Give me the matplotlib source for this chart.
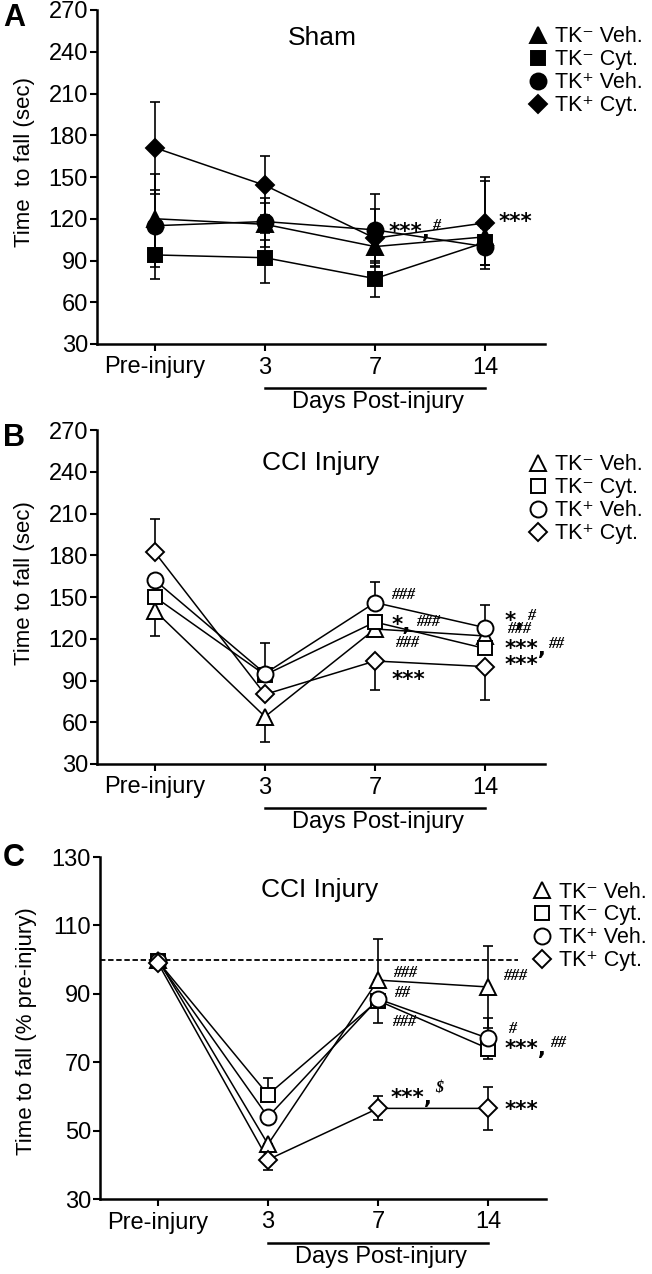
import matplotlib
matplotlib.use('Agg')
import matplotlib.pyplot as plt
from matplotlib.transforms import blended_transform_factory, offset_copy

plt.rcParams['font.family'] = ['Liberation Sans', 'DejaVu Sans']

days = ['Pre-injury', '3', '7', '14']
groups = ['TK\u207b Veh.', 'TK\u207b Cyt.', 'TK\u207a Veh.', 'TK\u207a Cyt.']
markers = ['^', 's', 'o', 'D']
msizes = [12, 10, 11.5, 9]

# A: Sham, time to fall (sec)  -- order: TK- Veh, TK- Cyt, TK+ Veh, TK+ Cyt
a_mean = [[120, 116, 100, 107], [94, 92, 77, 103], [115, 118, 112, 100], [171, 144, 106, 117]]
a_hi = [[32, 15, 12, 40], [17, 18, 13, 10], [26, 17, 26, 14], [33, 21, 21, 33]]
a_lo = [[35, 16, 12, 20], [17, 18, 13, 16], [26, 13, 26, 13], [33, 21, 21, 33]]

# B: CCI injury, time to fall (sec)
b_mean = [[140, 64, 127, 122], [150, 94, 132, 113], [162, 95, 146, 128], [182, 80, 104, 100]]
b_hi = [[0, 0, 0, 0], [0, 0, 0, 0], [0, 22, 15, 16], [24, 0, 0, 0]]
b_lo = [[18, 18, 0, 0], [0, 0, 0, 0], [0, 0, 0, 0], [0, 0, 21, 24]]

# C: CCI injury, % of pre-injury
c_mean = [[100, 46, 94, 92], [99.5, 60.5, 88, 74], [99.5, 54, 88.5, 77], [99, 41.5, 56.5, 56.5]]
c_hi = [[0, 0, 12, 12], [0, 5, 0, 0], [0, 0, 0, 6], [0, 0, 3.5, 6.3]]
c_lo = [[0, 0, 0, 12], [0, 0, 6.5, 3], [0, 0, 0, 0], [0, 3, 3.5, 6.3]]
baseline = 100

# significance labels: (x, y, text, kind)
a_notes = [(2.12, 114, '***,', 'star'), (2.52, 114.8, '#', 'hash'), (3.12, 121, '***', 'star')]
b_notes = [(2.15, 151.4, '###', 'hash'), (2.15, 133.5, '*,', 'star'), (2.37, 132.3, '###', 'hash'),
           (2.18, 116.7, '###', 'hash'), (2.15, 94, '***', 'star'),
           (3.18, 136.5, '*,', 'star'), (3.38, 136.5, '#', 'hash'), (3.2, 127, '###', 'hash'),
           (3.18, 116, '***,', 'star'), (3.57, 116.5, '##', 'hash'), (3.18, 104.7, '***', 'star')]
c_notes = [(2.14, 96.2, '###', 'hash'), (2.15, 90.1, '##', 'hash'), (2.13, 81.8, '###', 'hash'),
           (2.11, 61.1, '***,', 'star'), (2.52, 62.5, '$', 'hash'),
           (3.14, 95.2, '###', 'hash'), (3.18, 79.6, '#', 'hash'),
           (3.15, 75.3, '***,', 'star'), (3.56, 75.6, '##', 'hash'), (3.15, 57.5, '***', 'star')]

fig = plt.figure(figsize=(6.52, 12.74), dpi=100)
W, H = 652, 1274


def panel(rect, means, lo, hi, filled, notes, ylim, yticks, ylabel, ylab_xy, title, title_xy,
          letter, letter_xy, xlim):
    l, t, w, h = rect
    ax = fig.add_axes([l / W, 1 - (t + h) / H, w / W, h / H])
    x = list(range(len(days)))
    for m, e1, e2 in zip(means, lo, hi):
        ax.errorbar(x, m, yerr=[e1, e2], fmt='none', ecolor='black', elinewidth=1.2,
                    capsize=3.5, capthick=1.2, zorder=1)
    for m in means:
        ax.plot(x, m, color='black', lw=1.1, zorder=2)
    handles = []
    for m, mk, ms in zip(means, markers, msizes):
        ln, = ax.plot(x, m, ls='none', marker=mk, ms=ms, mfc='black' if filled else 'white',
                      mec='black', mew=1.4, zorder=3)
        handles.append(ln)
    star_tr = offset_copy(ax.transData, fig=fig, y=-5, units='dots')
    for nx, ny, s, kind in notes:
        if kind == 'star':
            ax.text(nx, ny, s, fontsize=15.5, family='DejaVu Sans', fontweight='bold',
                    va='center', ha='left', clip_on=False, transform=star_tr)
        else:
            ax.text(nx, ny, s, fontsize=11.5, family='Liberation Serif', style='italic',
                    fontweight='bold', va='center', ha='left', clip_on=False)
    ax.set_xlim(*xlim)
    ax.set_ylim(*ylim)
    ax.set_yticks(yticks)
    ax.set_xticks(x)
    ax.set_xticklabels(days)
    for sp in ['top', 'right']:
        ax.spines[sp].set_visible(False)
    for sp in ['left', 'bottom']:
        ax.spines[sp].set_linewidth(1.8)
    ax.tick_params(direction='out', length=5, width=1.5, labelsize=17)
    ax.tick_params(axis='y', pad=1.5)
    ax.tick_params(axis='x', pad=4)
    ax.set_ylabel(ylabel, fontsize=16)
    ax.yaxis.set_label_coords(*ylab_xy)
    ax.text(title_xy[0], title_xy[1], title, transform=ax.transAxes, fontsize=19,
            ha='center', va='center')
    fig.text(letter_xy[0] / W, 1 - letter_xy[1] / H, letter, fontsize=22, fontweight='bold',
             ha='center', va='center')
    leg = ax.legend(handles, groups, loc='upper left', bbox_to_anchor=(0.8, 0.98),
                    frameon=False, fontsize=15.5, handlelength=0.8,
                    handletextpad=0.4, labelspacing=0.09, borderpad=0, borderaxespad=0)
    # "Days Post-injury" bracket
    trans = blended_transform_factory(ax.transData, ax.transAxes)
    ax.plot([days.index('3'), days.index('14')], [0, 0], color='black', lw=1.8, clip_on=False,
            transform=offset_copy(trans, fig=fig, y=-44, units='dots'))
    ax.text(2.03, 0, 'Days Post-injury', ha='center', va='center', fontsize=17,
            transform=offset_copy(trans, fig=fig, y=-58, units='dots'))
    return ax, leg


ax_a, leg_a = panel((97, 10, 448, 334), a_mean, a_lo, a_hi, True, a_notes, (30, 270),
                    range(30, 271, 30), 'Time  to fall (sec)', (-0.138, 0.545), 'Sham',
                    (0.504, 0.916), 'A', (14, 18), (-0.527, 3.545))
ax_b, leg_b = panel((97, 430, 448, 334), b_mean, b_lo, b_hi, False, b_notes, (30, 270),
                    range(30, 271, 30), 'Time to fall (sec)', (-0.138, 0.542), 'CCI Injury',
                    (0.499, 0.90), 'B', (14, 438), (-0.527, 3.545))
ax_c, leg_c = panel((100, 857, 446, 342), c_mean, c_lo, c_hi, False, c_notes, (30, 130),
                    range(30, 131, 20), 'Time to fall (% pre-injury)', (-0.141, 0.49), 'CCI Injury',
                    (0.493, 0.904), 'C', (14, 858), (-0.527, 3.527))
ax_c.hlines(baseline, -0.527, 3.27, colors='black', linestyles=(0, (3, 1.5)), lw=1.3, zorder=0)

# place each legend so its first label starts where the reference has it
leg_targets = [(leg_a, 555, 37), (leg_b, 555, 465), (leg_c, 559, 892)]
for _ in range(2):
    fig.canvas.draw()
    r = fig.canvas.get_renderer()
    for leg, tx, ty in leg_targets:
        bb = leg.get_texts()[0].get_window_extent(r)
        lb = leg.get_window_extent(r)
        dx = tx - bb.x0
        dy = (H - ty) - (bb.y0 + bb.y1) / 2
        leg.set_bbox_to_anchor(((lb.x0 + dx) / W, (lb.y1 + dy) / H), transform=fig.transFigure)

fig.savefig('out.png', dpi=100)
